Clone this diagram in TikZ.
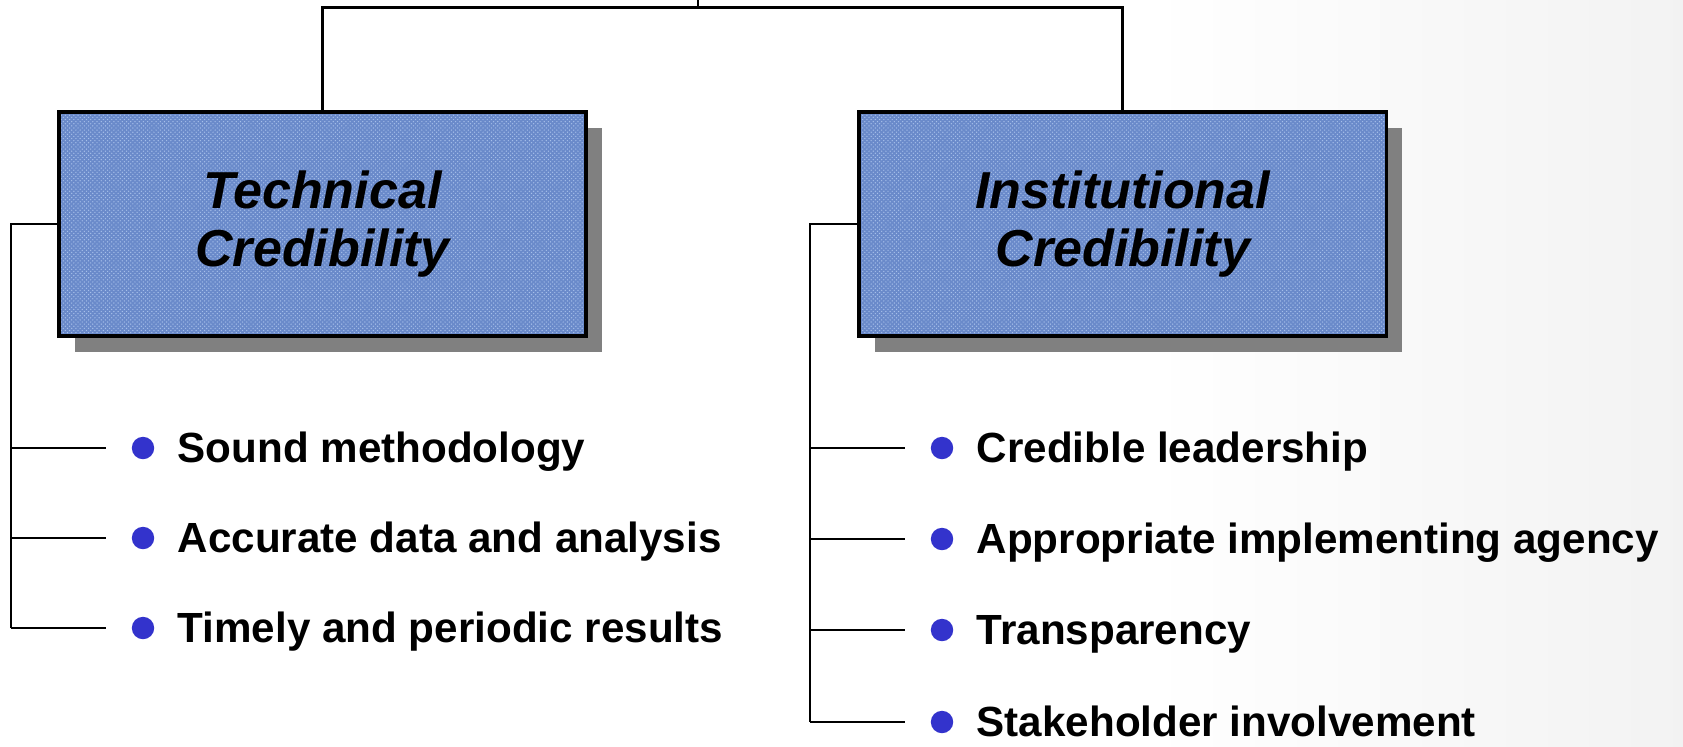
\documentclass[tikz,border=0pt]{standalone}
\usepackage{fontspec}
\setmainfont{Liberation Sans}
\usetikzlibrary{positioning,shadows,patterns}

\definecolor{cloth}{HTML}{6A8ACA}
\definecolor{clothlight}{HTML}{A6BFEA}
\definecolor{dot}{HTML}{3333CC}

\begin{document}
\begin{tikzpicture}[x=0.025cm,y=-0.025cm,line width=1.9pt,node distance=20cm]
  \tikzstyle{pillar}=[draw,line width=2.4pt,minimum width=13.175cm,minimum height=5.6cm,
                      drop shadow={shadow xshift=0.4cm,shadow yshift=-0.4cm,fill=black!50,opacity=1},
                      preaction={fill=cloth},pattern=crosshatch dots,pattern color=clothlight,
                      align=center,font=\fontsize{37}{41}\selectfont\bfseries\itshape]
  \tikzstyle{dot}=[circle,fill=dot,inner sep=0pt,minimum size=0.56cm]
  \tikzstyle{item}=[right=0.52cm of #1,inner sep=0pt,text height=21pt,text depth=0pt,
                    font=\fontsize{30}{36}\selectfont\bfseries]
  \tikzstyle{twig}=[shorten >=0.62cm]

  \useasboundingbox (0,0) rectangle (1683,746);
  \fill[white] (0,0) rectangle (1683,746);
  \fill[left color=white,right color=black!5] (1150,0) rectangle (1683,746);

  % the two pillars
  \node[pillar] (tech) at (322.5,224)  {Technical\\Credibility};
  \node[pillar] (inst) [right of=tech] {Institutional\\Credibility};

  % bullets of the left pillar
  \node[dot] (lb1) at (143,448) {};
  \node[dot] (lb2) at (143,538) {};
  \node[dot] (lb3) at (143,628) {};
  \node[item=lb1] (lt1) {Sound methodology};
  \node[item=lb2] (lt2) {Accurate data and analysis};
  \node[item=lb3] (lt3) {Timely and periodic results};

  % bullets of the right pillar
  \node[dot] (rb1) at (942,448) {};
  \node[dot] (rb2) at (942,539) {};
  \node[dot] (rb3) at (942,630) {};
  \node[dot] (rb4) at (942,722) {};
  \node[item=rb1] (rt1) {Credible leadership};
  \node[item=rb2] (rt2) {Appropriate implementing agency};
  \node[item=rb3] (rt3) {Transparency};
  \node[item=rb4] (rt4) {Stakeholder involvement};

  % tree lines
  \coordinate (up)    at (698,0);
  \coordinate (hub)   at (698,7.5);
  \coordinate (lrail) at (11,628);
  \coordinate (rrail) at (810,722);

  \draw (up) -- (hub);
  \draw (tech.north) |- (hub) -| (inst.north);

  \draw (tech.west) -| (lrail);
  \draw[twig] (lrail |- lb1) -- (lb1.west);
  \draw[twig] (lrail |- lb2) -- (lb2.west);
  \draw[twig] (lrail |- lb3) -- (lb3.west);

  \draw (inst.west) -| (rrail);
  \draw[twig] (rrail |- rb1) -- (rb1.west);
  \draw[twig] (rrail |- rb2) -- (rb2.west);
  \draw[twig] (rrail |- rb3) -- (rb3.west);
  \draw[twig] (rrail |- rb4) -- (rb4.west);
\end{tikzpicture}
\end{document}
